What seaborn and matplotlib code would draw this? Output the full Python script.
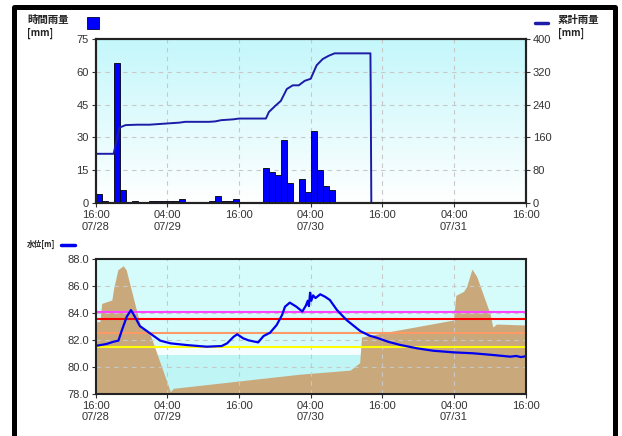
import numpy as np
import pandas as pd
import matplotlib
matplotlib.use('Agg')
import matplotlib.pyplot as plt
import seaborn as sns
from matplotlib.colors import LinearSegmentedColormap
from matplotlib.lines import Line2D
from matplotlib.patches import Rectangle

# hours counted from 07/28 16:00
tick_hours = [0, 12, 24, 36, 48, 60, 72]
tick_labels = ['16:00\n07/28', '04:00\n07/29', '16:00', '04:00\n07/30',
               '16:00', '04:00\n07/31', '16:00']

# hourly rainfall (only the non-zero hours)
rain_hours = [0, 1, 3, 4, 6, 9, 10, 11, 12, 13, 14, 19, 20, 21, 22, 23,
              28, 29, 30, 31, 32, 34, 35, 36, 37, 38, 39]
rain_mm = [4, 1, 64, 6, 1, 1, 1, 1, 1, 1, 2, 1, 3, 1, 1, 2,
           16, 14, 13, 29, 9, 11, 5, 33, 15, 8, 6]

# cumulative rainfall
cum_hours = [0, 3, 4, 5, 7, 9, 10, 11, 12, 13, 14, 15, 19, 20, 21, 22, 23, 24,
             28.5, 29, 30, 31, 32, 33, 34, 35, 36, 37, 38, 39, 40, 46, 46.05, 46.15]
cum_mm = [120, 120, 184, 190, 191, 191, 192, 193, 194, 195, 196, 198, 198, 199,
          202, 203, 204, 206, 206, 222, 236, 249, 278, 287, 287, 298, 303, 336,
          351, 359, 365, 365, 272, 0]

# water level
wl_hours = [0, 1.8, 3.0, 3.8, 4.4, 5.2, 5.9, 6.3, 7.4, 9.1, 10.8, 12.5, 15.3,
            18.6, 21.1, 22.0, 23.1, 23.7, 24.7, 25.6, 27.2, 28.1, 29.2, 30.3,
            31.2, 31.7, 32.5, 33.6, 34.6, 35.2, 35.5, 35.7, 35.9, 36.1, 36.4,
            36.8, 37.6, 38.4, 39.2, 40.4, 42.0, 44.3, 45.9, 47.1, 49.0, 51.0,
            53.8, 56.5, 59.9, 63.2, 66.6, 69.4, 70.4, 71.2, 72.0]
wl_m = [81.55, 81.69, 81.86, 81.94, 82.73, 83.72, 84.21, 83.92, 83.02, 82.48,
        81.94, 81.74, 81.61, 81.49, 81.54, 81.74, 82.23, 82.41, 82.11, 81.96,
        81.81, 82.28, 82.53, 83.1, 83.84, 84.46, 84.76, 84.46, 84.1, 84.55,
        84.9, 84.5, 85.5, 84.9, 85.3, 85.1, 85.38, 85.2, 84.96, 84.21, 83.47,
        82.65, 82.3, 82.15, 81.85, 81.62, 81.37, 81.19, 81.07, 81.0, 80.87,
        80.75, 80.8, 80.72, 80.78]

# brown area
area_hours = [0, 0.7, 1.0, 2.7, 3.0, 3.7, 4.6, 5.1, 7.6, 8.6, 9.2, 12.5, 13.0,
              34.2, 42.6, 44.2, 44.5, 47.6, 59.9, 60.3, 61.6, 62.1, 63.0, 63.8,
              66.0, 66.5, 67.1, 72.0]
area_m = [83.35, 83.35, 84.7, 84.96, 85.8, 87.2, 87.5, 87.2, 82.85, 82.7, 82.3,
          78.15, 78.4, 79.45, 79.75, 80.3, 82.2, 82.48, 83.47, 85.3, 85.6, 85.95,
          87.25, 86.7, 83.97, 82.95, 83.17, 83.1]

# reference levels
levels = [84.1, 83.55, 82.5, 81.5]
level_colors = ['#ff44ff', '#ff0000', '#ff9966', '#ffff00']

sns.set_style('ticks')
plt.rcParams['font.family'] = ['Liberation Sans', 'Noto Sans CJK JP', 'DejaVu Sans']

W, H = 622, 436
fig = plt.figure(figsize=(6.22, 4.36), dpi=100)
fig.patch.set_facecolor('white')

def fx(px):
    return px / W

def fy(py):
    return 1 - py / H

tick_color = '#333333'

# ---- rainfall ----
ax1 = fig.add_axes([fx(95.7), fy(203), fx(430), 164 / H])
grad = LinearSegmentedColormap.from_list('g', ['#ffffff', '#c4f7fb'])
ax1.imshow(np.linspace(0, 1, 256).reshape(-1, 1), cmap=grad, origin='lower',
           extent=(0, 72, 0, 75), aspect='auto', zorder=0)
rain = pd.DataFrame({'x': np.array(rain_hours) + 0.5, 'mm': rain_mm})
sns.histplot(data=rain, x='x', weights='mm', binwidth=1, binrange=(0, 72), ax=ax1,
             color='#0000ff', edgecolor='#000000', linewidth=0.6, alpha=1, zorder=3)
ax1.set_xlim(0, 72)
ax1.set_ylim(0, 75)
ax1.set_yticks(range(0, 76, 15))
ax1.set_xticks(tick_hours)
ax1.set_xticklabels(tick_labels)
ax1.grid(True, color='#c8c8c8', linestyle=(0, (4, 4)), linewidth=0.8)
ax1.set_axisbelow(True)
ax1.set_xlabel('')
ax1.set_ylabel('')

ax2 = ax1.twinx()
cum = pd.DataFrame({'h': cum_hours, 'mm': cum_mm})
sns.lineplot(data=cum, x='h', y='mm', ax=ax2, color='#1c1ca8', linewidth=1.4, sort=False)
ax2.set_ylim(0, 400)
ax2.set_yticks(range(0, 401, 80))
ax2.set_xlim(0, 72)
ax2.set_xlabel('')
ax2.set_ylabel('')

# ---- water level ----
ax3 = fig.add_axes([fx(95.7), fy(393.7), fx(430), 134.7 / H])
ax3.axhspan(81.5, 88, color='#d6fbfb', lw=0, zorder=0)
ax3.axhspan(80.85, 81.5, color='#f4fefe', lw=0, zorder=0)
ax3.axhspan(78, 80.85, color='#bff5f5', lw=0, zorder=0)
ax3.fill_between(area_hours, 78, area_m, color='#c9a97c', lw=0, zorder=1)
for lv, c in zip(levels, level_colors):
    ax3.axhline(lv, color=c, linewidth=1.5, zorder=3)
wl = pd.DataFrame({'h': wl_hours, 'm': wl_m})
sns.lineplot(data=wl, x='h', y='m', ax=ax3, color='#0000ee', linewidth=1.6, sort=False, zorder=4)
ax3.set_xlim(0, 72)
ax3.set_ylim(78, 88)
ax3.set_yticks(np.arange(78, 88.1, 2))
ax3.set_yticklabels([f'{v:.1f}' for v in np.arange(78, 88.1, 2)])
ax3.set_xticks(tick_hours)
ax3.set_xticklabels(tick_labels)
ax3.grid(True, color='#c8c8c8', linestyle=(0, (4, 4)), linewidth=0.8, zorder=2)
ax3.set_axisbelow(False)
ax3.set_xlabel('')
ax3.set_ylabel('')

for ax in (ax1, ax2, ax3):
    for s in ax.spines.values():
        s.set_color('#222222')
        s.set_linewidth(1.5)
        s.set_zorder(6)
    ax.tick_params(labelsize=8, labelcolor=tick_color, length=3, width=0.8,
                   color='#333333', pad=2)

# ---- legend texts ----
jp = dict(family=['Noto Sans CJK JP', 'DejaVu Sans'], weight='bold', color='#222222')
fig.text(fx(27), fy(20), '時間雨量', fontsize=7.5, va='center', ha='left', **jp)
fig.text(fx(27), fy(33), '[mm]', fontsize=7, va='center', ha='left', **jp)
fig.text(fx(558), fy(20), '累計雨量', fontsize=7.5, va='center', ha='left', **jp)
fig.text(fx(558), fy(33), '[mm]', fontsize=7, va='center', ha='left', **jp)
fig.text(fx(27), fy(244), '水位[m]', fontsize=5.5, va='center', ha='left', **jp)
fig.add_artist(Rectangle((fx(87), fy(29)), fx(12), 12 / H, transform=fig.transFigure,
                         facecolor='#0000ff', edgecolor='#000033', linewidth=0.6))
fig.add_artist(Line2D([fx(535), fx(548)], [fy(23), fy(23)], transform=fig.transFigure,
                      color='#1c1ca8', linewidth=2.5))
fig.add_artist(Line2D([fx(61), fx(75)], [fy(245), fy(245)], transform=fig.transFigure,
                      color='#0000ee', linewidth=2.5))

# outer black frame
fig.add_artist(Line2D([fx(13.5), fx(13.5), fx(614.5), fx(614.5)],
                      [fy(440), fy(7.5), fy(7.5), fy(440)],
                      transform=fig.transFigure, color='black', linewidth=3.6))

fig.savefig('out.png', dpi=100)
